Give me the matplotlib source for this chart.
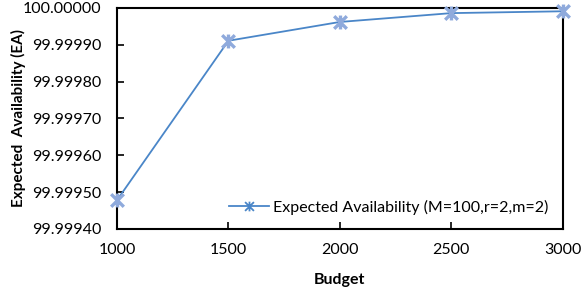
import matplotlib
matplotlib.use("Agg")
import matplotlib.pyplot as plt
from matplotlib.ticker import FuncFormatter
from matplotlib.path import Path

budget = [1000, 1500, 2000, 2500, 3000]
availability = [99.999478, 99.999911, 99.999962, 99.999986, 99.999991]
yticks = [99.99940, 99.99950, 99.99960, 99.99970, 99.99980, 99.99990, 100.00000]
series_label = "Expected Availability (M=100,r=2,m=2)"

plt.rcParams['font.family'] = ['Lato', 'DejaVu Sans']

star = Path([(-1, -1), (1, 1), (-1, 1), (1, -1), (0, -1.1), (0, 1.1)],
            [Path.MOVETO, Path.LINETO, Path.MOVETO, Path.LINETO, Path.MOVETO, Path.LINETO])

fig = plt.figure(figsize=(5.88, 2.95), dpi=100)
ax = fig.add_axes([0.199, 0.224, 0.758, 0.749])

line_c = '#4A86C8'
mk_c = '#8FAADC'
ax.plot(budget, availability, color=line_c, lw=1.3, marker=star,
        markersize=10, markeredgecolor=mk_c, markeredgewidth=2.4,
        clip_on=False, zorder=3, label=series_label)

ax.set_xlim(1000, 3000)
ax.set_ylim(99.99940, 100.00000)
ax.set_xticks(budget)
ax.set_yticks(yticks)
ax.yaxis.set_major_formatter(FuncFormatter(lambda v, p: f"{v:.5f}"))
ax.tick_params(direction='in', length=5, width=1.2, labelsize=11.5)
ax.tick_params(axis='y', pad=11)
ax.tick_params(axis='x', pad=10)

for s in ax.spines.values():
    s.set_linewidth(1.5)
    s.set_color('black')

ax.set_xlabel("Budget", fontsize=11.5, fontweight='bold', labelpad=12)
ax.set_ylabel("Expected  Availability (EA)", fontsize=11, fontweight='bold')
ax.yaxis.set_label_coords(-0.205, 0.5)

leg = ax.legend(loc='lower left', bbox_to_anchor=(0.22, 0.0), frameon=False,
                fontsize=11.5, handlelength=2.5, handletextpad=0.2)
for h in leg.legend_handles:
    h.set_markersize(7)
    h.set_markeredgecolor(line_c)
    h.set_markeredgewidth(1.3)

fig.savefig("out.png", dpi=100)
